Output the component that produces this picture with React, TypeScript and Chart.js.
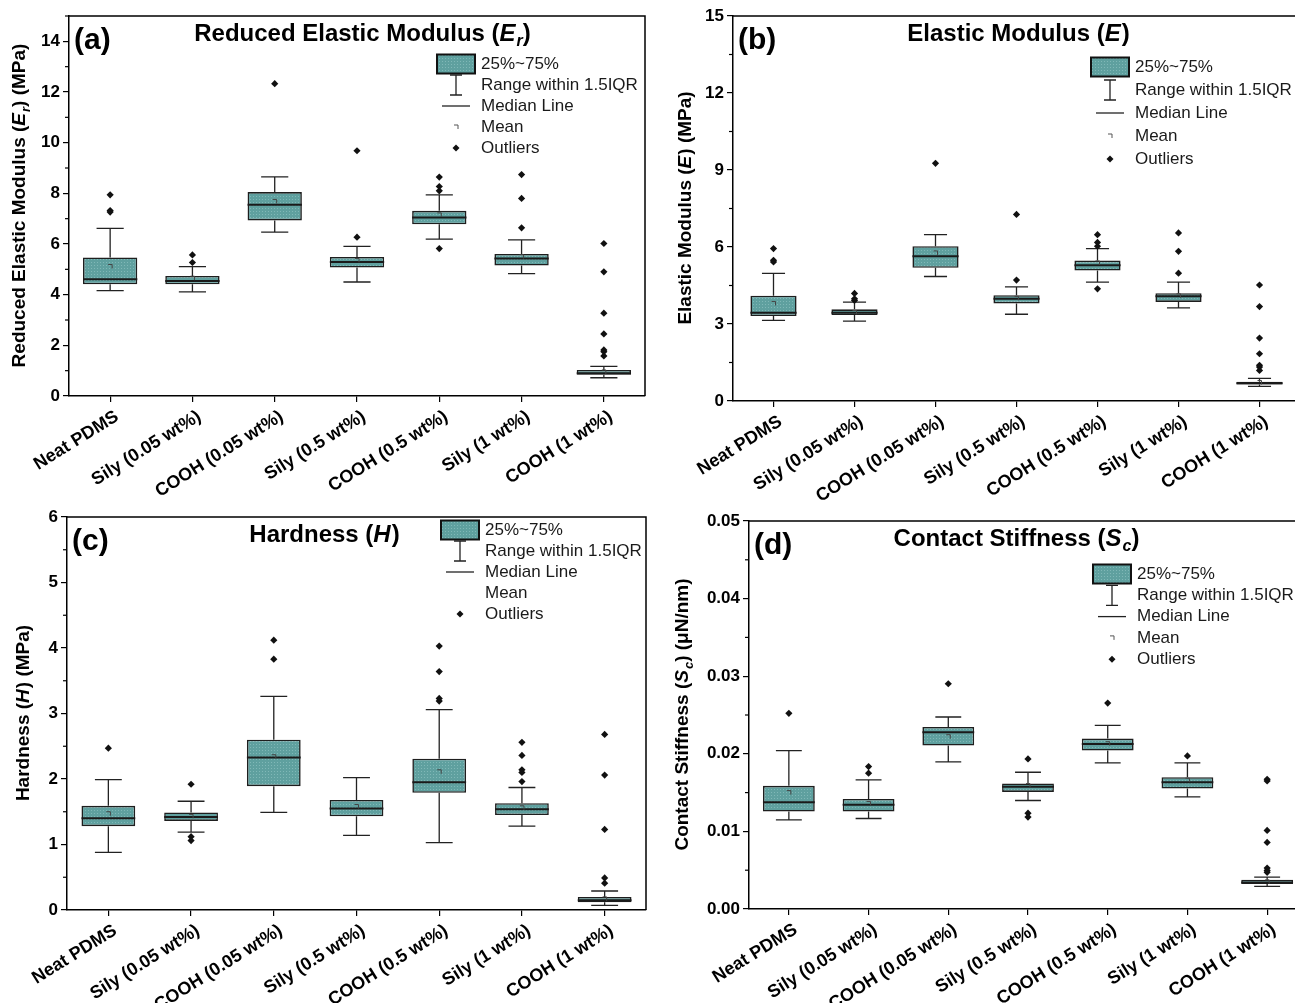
import { useEffect, useRef } from 'react';
import { Chart, registerables } from 'chart.js';

Chart.register(...registerables);

const FAMILY = "'Liberation Sans', Arial, Helvetica, sans-serif";

const categories = [
  'Neat PDMS',
  'Sily (0.05 wt%)',
  'COOH (0.05 wt%)',
  'Sily (0.5 wt%)',
  'COOH (0.5 wt%)',
  'Sily (1 wt%)',
  'COOH (1 wt%)',
];

// (a) Reduced elastic modulus Er (MPa)
const erLow = [4.16, 4.11, 6.47, 4.5, 6.19, 4.83, 0.72];
const erQ1 = [4.41, 4.41, 6.93, 5.07, 6.78, 5.15, 0.84];
const erMedian = [4.61, 4.54, 7.55, 5.29, 7.05, 5.43, 0.9];
const erQ3 = [5.47, 4.74, 8.05, 5.49, 7.31, 5.61, 1.03];
const erHigh = [6.62, 5.11, 8.65, 5.91, 7.94, 6.16, 1.17];
const erMean = [5.11, 4.65, 7.68, 5.35, 7.15, 5.5, 0.95];
const erOutliers = [
  [7.94, 7.32, 7.26],
  [5.57, 5.27],
  [12.33],
  [6.27, 9.68],
  [8.64, 8.27, 8.1, 5.82],
  [8.74, 7.8, 6.64],
  [6.02, 4.9, 3.27, 2.45, 1.82, 1.75, 1.58],
];

// (b) Elastic modulus E (MPa)
const eLow = [3.14, 3.11, 4.85, 3.38, 4.63, 3.63, 0.57];
const eQ1 = [3.31, 3.35, 5.19, 3.8, 5.08, 3.86, 0.64];
const eMedian = [3.44, 3.44, 5.64, 3.98, 5.29, 4.08, 0.69];
const eQ3 = [4.1, 3.57, 6.03, 4.12, 5.47, 4.2, 0.75];
const eHigh = [4.97, 3.85, 6.48, 4.45, 5.94, 4.63, 0.88];
const eMean = [3.8, 3.45, 5.77, 4.0, 5.38, 4.1, 0.72];
const eOutliers = [
  [5.94, 5.48, 5.42],
  [4.19, 3.98, 3.92],
  [9.26],
  [4.71, 7.27],
  [6.48, 6.18, 6.03, 4.37],
  [6.55, 5.83, 4.98],
  [4.52, 3.68, 2.45, 1.84, 1.39, 1.32, 1.19],
];

// (c) Hardness H (MPa)
const hLow = [0.88, 1.19, 1.49, 1.14, 1.03, 1.28, 0.07];
const hQ1 = [1.28, 1.36, 1.89, 1.43, 1.79, 1.45, 0.12];
const hMedian = [1.4, 1.42, 2.33, 1.55, 1.95, 1.54, 0.15];
const hQ3 = [1.59, 1.49, 2.6, 1.68, 2.31, 1.63, 0.2];
const hHigh = [1.99, 1.66, 3.26, 2.02, 3.06, 1.87, 0.29];
const hMean = [1.47, 1.43, 2.34, 1.58, 2.11, 1.56, 0.17];
const hOutliers = [
  [2.47],
  [1.92, 1.12, 1.06],
  [4.12, 3.83],
  [],
  [4.03, 3.64, 3.23, 3.19],
  [2.56, 2.36, 2.14, 2.1, 1.96],
  [2.68, 2.06, 1.23, 0.49, 0.41],
];

// (d) Contact stiffness Sc (uN/nm)
const scLow = [0.01149, 0.01166, 0.01895, 0.01398, 0.01883, 0.01445, 0.00292];
const scQ1 = [0.01256, 0.01256, 0.02106, 0.01509, 0.02041, 0.01552, 0.00322];
const scMedian = [0.01377, 0.01342, 0.02277, 0.01574, 0.02127, 0.01634, 0.00343];
const scQ3 = [0.01587, 0.01419, 0.02346, 0.01617, 0.02196, 0.01698, 0.00377];
const scHigh = [0.0204, 0.01664, 0.02474, 0.01762, 0.02367, 0.01883, 0.00412];
const scMean = [0.015, 0.0136, 0.0222, 0.0159, 0.0213, 0.0166, 0.0035];
const scOutliers = [
  [0.02521],
  [0.01835, 0.0175],
  [0.02903],
  [0.01934, 0.01235, 0.01184],
  [0.02654],
  [0.01973],
  [0.01672, 0.0165, 0.01012, 0.00858, 0.00527, 0.00497, 0.00472],
];

const legendLabels = ['25%~75%', 'Range within 1.5IQR', 'Median Line', 'Mean', 'Outliers'];

type Seg = { t: string; i?: boolean; s?: boolean };

type Panel = {
  tag: string;
  title: Seg[];
  yTitle: Seg[];
  low: number[];
  q1: number[];
  med: number[];
  q3: number[];
  high: number[];
  mean: number[];
  outliers: number[][];
  yMax: number;
  yStep: number;
  yMinor: number;
  decimals: number;
  pos: { left: number; top: number; width: number; height: number };
  area: { left: number; top: number; right: number; bottom: number };
  titleX: number;
  titleY: number;
  yTitleX: number;
  legend: { x: number; y: number; dy: number; showMean: boolean };
  barPct: number;
};

const panels: Panel[] = [
  {
    tag: '(a)',
    title: [{ t: 'Reduced Elastic Modulus (' }, { t: 'E', i: true }, { t: 'r', i: true, s: true }, { t: ')' }],
    yTitle: [{ t: 'Reduced Elastic Modulus (' }, { t: 'E', i: true }, { t: 'r', i: true, s: true }, { t: ') (MPa)' }],
    low: erLow, q1: erQ1, med: erMedian, q3: erQ3, high: erHigh, mean: erMean, outliers: erOutliers,
    yMax: 15, yStep: 2, yMinor: 1, decimals: 0,
    pos: { left: 0, top: 0, width: 650, height: 500 },
    area: { left: 69, top: 16, right: 645, bottom: 396 },
    titleX: 362, titleY: 34, yTitleX: 20,
    legend: { x: 437, y: 64, dy: 21, showMean: true },
    barPct: 0.66,
  },
  {
    tag: '(b)',
    title: [{ t: 'Elastic Modulus (' }, { t: 'E', i: true }, { t: ')' }],
    yTitle: [{ t: 'Elastic Modulus (' }, { t: 'E', i: true }, { t: ') (MPa)' }],
    low: eLow, q1: eQ1, med: eMedian, q3: eQ3, high: eHigh, mean: eMean, outliers: eOutliers,
    yMax: 15, yStep: 3, yMinor: 1.5, decimals: 0,
    pos: { left: 650, top: 0, width: 665, height: 500 },
    area: { left: 83, top: 16, right: 650, bottom: 401 },
    titleX: 368, titleY: 34, yTitleX: 36,
    legend: { x: 441, y: 67, dy: 23, showMean: true },
    barPct: 0.57,
  },
  {
    tag: '(c)',
    title: [{ t: 'Hardness (' }, { t: 'H', i: true }, { t: ')' }],
    yTitle: [{ t: 'Hardness (' }, { t: 'H', i: true }, { t: ') (MPa)' }],
    low: hLow, q1: hQ1, med: hMedian, q3: hQ3, high: hHigh, mean: hMean, outliers: hOutliers,
    yMax: 6, yStep: 1, yMinor: 0.5, decimals: 0,
    pos: { left: 0, top: 500, width: 650, height: 503 },
    area: { left: 67, top: 17, right: 647, bottom: 410 },
    titleX: 324, titleY: 35, yTitleX: 24,
    legend: { x: 441, y: 30, dy: 21, showMean: false },
    barPct: 0.65,
  },
  {
    tag: '(d)',
    title: [{ t: 'Contact Stiffness (' }, { t: 'S', i: true }, { t: 'c', i: true, s: true }, { t: ')' }],
    yTitle: [{ t: 'Contact Stiffness (' }, { t: 'S', i: true }, { t: 'c', i: true, s: true }, { t: ') (\u03bcN/nm)' }],
    low: scLow, q1: scQ1, med: scMedian, q3: scQ3, high: scHigh, mean: scMean, outliers: scOutliers,
    yMax: 0.05, yStep: 0.01, yMinor: 0.005, decimals: 2,
    pos: { left: 650, top: 500, width: 665, height: 503 },
    area: { left: 99, top: 21, right: 657, bottom: 409 },
    titleX: 366, titleY: 39, yTitleX: 33,
    legend: { x: 443, y: 74, dy: 21.3, showMean: true },
    barPct: 0.65,
  },
];

function segFont(seg: Seg, size: number, bold: boolean) {
  const sz = seg.s ? Math.round(size * 0.68) : size;
  return `${seg.i ? 'italic ' : ''}${bold ? 'bold ' : ''}${sz}px ${FAMILY}`;
}

function drawRich(
  ctx: CanvasRenderingContext2D,
  segs: Seg[],
  x: number,
  y: number,
  size: number,
  bold: boolean,
  rotate: number
) {
  ctx.save();
  ctx.translate(x, y);
  if (rotate) ctx.rotate(rotate);
  let total = 0;
  for (const s of segs) {
    ctx.font = segFont(s, size, bold);
    total += ctx.measureText(s.t).width;
  }
  let cx = -total / 2;
  ctx.textAlign = 'left';
  ctx.textBaseline = 'middle';
  ctx.fillStyle = '#000';
  for (const s of segs) {
    ctx.font = segFont(s, size, bold);
    ctx.fillText(s.t, cx, s.s ? size * 0.32 : 0);
    cx += ctx.measureText(s.t).width + (s.i && !s.s ? 1 : 0);
  }
  ctx.restore();
}

function makePattern(canvas: HTMLCanvasElement): CanvasPattern | string {
  const tile = document.createElement('canvas');
  tile.width = 3;
  tile.height = 3;
  const t = tile.getContext('2d');
  if (!t) return '#64a4a3';
  t.fillStyle = '#5fa09f';
  t.fillRect(0, 0, 3, 3);
  t.fillStyle = '#80b8b7';
  t.fillRect(1, 1, 1, 1);
  const ctx = canvas.getContext('2d');
  const p = ctx ? ctx.createPattern(tile, 'repeat') : null;
  return p ?? '#64a4a3';
}

function BoxPanel({ panel }: { panel: Panel }) {
  const ref = useRef<HTMLCanvasElement | null>(null);

  useEffect(() => {
    const canvas = ref.current;
    if (!canvas) return;
    const fill = makePattern(canvas);
    const p = panel;

    const extras = {
      id: 'boxExtras',
      beforeDatasetsDraw(chart: any) {
        const ctx: CanvasRenderingContext2D = chart.ctx;
        const xs = chart.scales.x;
        const ys = chart.scales.y;
        const meta = chart.getDatasetMeta(0);
        ctx.save();
        ctx.strokeStyle = '#222';
        ctx.lineWidth = 1.3;
        p.low.forEach((lo, i) => {
          const x = xs.getPixelForValue(i);
          const w = meta.data[i] ? meta.data[i].width : 40;
          const cap = w / 4;
          const yLo = ys.getPixelForValue(lo);
          const yHi = ys.getPixelForValue(p.high[i]);
          const yQ1 = ys.getPixelForValue(p.q1[i]);
          const yQ3 = ys.getPixelForValue(p.q3[i]);
          ctx.beginPath();
          ctx.moveTo(x, yQ3);
          ctx.lineTo(x, yHi);
          ctx.moveTo(x, yQ1);
          ctx.lineTo(x, yLo);
          ctx.moveTo(x - cap, yHi);
          ctx.lineTo(x + cap, yHi);
          ctx.moveTo(x - cap, yLo);
          ctx.lineTo(x + cap, yLo);
          ctx.stroke();
        });
        ctx.restore();
      },
      afterDatasetsDraw(chart: any) {
        const ctx: CanvasRenderingContext2D = chart.ctx;
        const xs = chart.scales.x;
        const ys = chart.scales.y;
        const meta = chart.getDatasetMeta(0);
        ctx.save();
        p.med.forEach((m, i) => {
          const x = xs.getPixelForValue(i);
          const w = meta.data[i] ? meta.data[i].width : 40;
          const y = ys.getPixelForValue(m);
          ctx.strokeStyle = '#1a1a1a';
          ctx.lineWidth = 2;
          ctx.beginPath();
          ctx.moveTo(x - w / 2, y);
          ctx.lineTo(x + w / 2, y);
          ctx.stroke();
          const ym = ys.getPixelForValue(p.mean[i]);
          ctx.strokeStyle = '#444';
          ctx.lineWidth = 1;
          ctx.beginPath();
          ctx.moveTo(x - 2, ym - 2);
          ctx.lineTo(x + 2, ym - 2);
          ctx.lineTo(x + 2, ym + 2);
          ctx.stroke();
        });
        ctx.restore();
      },
      afterDraw(chart: any) {
        const ctx: CanvasRenderingContext2D = chart.ctx;
        const a = chart.chartArea;
        const ys = chart.scales.y;
        ctx.save();
        // frame top & right
        ctx.strokeStyle = '#000';
        ctx.lineWidth = 1.5;
        ctx.beginPath();
        ctx.moveTo(a.left, a.top);
        ctx.lineTo(a.right, a.top);
        ctx.lineTo(a.right, a.bottom);
        ctx.stroke();
        // minor ticks
        ctx.lineWidth = 1.2;
        const n = Math.round(p.yMax / p.yMinor);
        for (let k = 1; k <= n; k++) {
          const v = k * p.yMinor;
          const r = v / p.yStep;
          if (Math.abs(r - Math.round(r)) < 1e-6) continue;
          const y = ys.getPixelForValue(v);
          ctx.beginPath();
          ctx.moveTo(a.left - 4, y);
          ctx.lineTo(a.left, y);
          ctx.stroke();
        }
        // panel tag
        ctx.fillStyle = '#000';
        ctx.font = `bold 30px ${FAMILY}`;
        ctx.textAlign = 'left';
        ctx.textBaseline = 'middle';
        ctx.fillText(p.tag, a.left + 5, a.top + 25);
        // title
        drawRich(ctx, p.title, p.titleX, p.titleY, 24, true, 0);
        // y axis title
        drawRich(ctx, p.yTitle, p.yTitleX, (a.top + a.bottom) / 2, 19, true, -Math.PI / 2);
        // legend
        const L = p.legend;
        const sw = 38;
        const sh = 19;
        const cx = L.x + sw / 2;
        ctx.fillStyle = fill as any;
        ctx.fillRect(L.x, L.y - sh / 2, sw, sh);
        ctx.strokeStyle = '#111';
        ctx.lineWidth = 2;
        ctx.strokeRect(L.x, L.y - sh / 2, sw, sh);
        // whisker icon
        const y1 = L.y + L.dy;
        ctx.lineWidth = 1.3;
        ctx.strokeStyle = '#222';
        ctx.beginPath();
        ctx.moveTo(cx, y1 - 10);
        ctx.lineTo(cx, y1 + 10);
        ctx.moveTo(cx - 6, y1 - 10);
        ctx.lineTo(cx + 6, y1 - 10);
        ctx.moveTo(cx - 6, y1 + 10);
        ctx.lineTo(cx + 6, y1 + 10);
        ctx.stroke();
        // median icon
        const y2 = L.y + 2 * L.dy;
        ctx.beginPath();
        ctx.moveTo(cx - 14, y2);
        ctx.lineTo(cx + 14, y2);
        ctx.stroke();
        // mean icon
        const y3 = L.y + 3 * L.dy;
        if (L.showMean) {
          ctx.lineWidth = 1;
          ctx.strokeStyle = '#555';
          ctx.beginPath();
          ctx.moveTo(cx - 2, y3 - 2);
          ctx.lineTo(cx + 2, y3 - 2);
          ctx.lineTo(cx + 2, y3 + 2);
          ctx.stroke();
        }
        // outlier icon
        const y4 = L.y + 4 * L.dy;
        ctx.fillStyle = '#111';
        ctx.beginPath();
        ctx.moveTo(cx, y4 - 3.5);
        ctx.lineTo(cx + 3.5, y4);
        ctx.lineTo(cx, y4 + 3.5);
        ctx.lineTo(cx - 3.5, y4);
        ctx.closePath();
        ctx.fill();
        // legend texts
        ctx.fillStyle = '#1a1a1a';
        ctx.font = `17px ${FAMILY}`;
        ctx.textAlign = 'left';
        ctx.textBaseline = 'middle';
        legendLabels.forEach((lab, k) => {
          ctx.fillText(lab, L.x + sw + 6, L.y + k * L.dy);
        });
        ctx.restore();
      },
    };

    const outlierPoints = p.outliers.flatMap((arr, i) =>
      arr.map((v) => ({ x: categories[i], y: v }))
    );

    const chart = new Chart(canvas, {
      type: 'bar',
      data: {
        labels: categories,
        datasets: [
          {
            type: 'bar',
            data: p.q1.map((v, i) => [v, p.q3[i]]) as any,
            backgroundColor: fill as any,
            borderColor: '#1e1e1e',
            borderWidth: 1.6,
            borderSkipped: false,
            barPercentage: p.barPct,
            categoryPercentage: 1,
            order: 2,
          },
          {
            type: 'line',
            data: outlierPoints as any,
            showLine: false,
            pointStyle: 'rectRot',
            pointRadius: 3.6,
            pointBackgroundColor: '#111',
            pointBorderColor: '#111',
            pointBorderWidth: 0,
            order: 1,
          } as any,
        ],
      },
      options: {
        responsive: false,
        animation: false,
        events: [],
        layout: {
          padding: {
            top: p.area.top,
            right: p.pos.width - p.area.right,
            left: 0,
            bottom: 0,
          },
        },
        plugins: {
          legend: { display: false },
          tooltip: { enabled: false },
          title: { display: false },
        },
        scales: {
          x: {
            type: 'category',
            offset: true,
            grid: {
              offset: false,
              drawOnChartArea: false,
              drawTicks: true,
              tickLength: 6,
              color: '#000',
              lineWidth: 1.2,
            },
            border: { color: '#000', width: 1.5 },
            ticks: {
              autoSkip: false,
              minRotation: 32,
              maxRotation: 32,
              padding: 4,
              labelOffset: 7,
              color: '#000',
              font: { family: FAMILY, size: 18, weight: 'bold' },
            },
            afterFit: (s: any) => {
              s.height = p.pos.height - p.area.bottom;
            },
          },
          y: {
            type: 'linear',
            min: 0,
            max: p.yMax,
            grid: {
              drawOnChartArea: false,
              drawTicks: true,
              tickLength: 6,
              color: '#000',
              lineWidth: 1.2,
            },
            border: { color: '#000', width: 1.5 },
            ticks: {
              stepSize: p.yStep,
              includeBounds: false,
              padding: 3,
              color: '#000',
              font: { family: FAMILY, size: 17, weight: 'bold' },
              callback: (v: any) => Number(v).toFixed(p.decimals),
            },
            afterFit: (s: any) => {
              s.width = p.area.left;
            },
          },
        },
      } as any,
      plugins: [extras],
    });
    return () => chart.destroy();
  }, [panel]);

  return (
    <canvas
      ref={ref}
      width={panel.pos.width}
      height={panel.pos.height}
      style={{
        position: 'absolute',
        left: panel.pos.left,
        top: panel.pos.top,
        width: panel.pos.width,
        height: panel.pos.height,
      }}
    />
  );
}

export default function App() {
  return (
    <div
      style={{
        position: 'fixed',
        left: 0,
        top: 0,
        width: 1295,
        height: 1003,
        overflow: 'hidden',
        background: '#fff',
      }}
    >
      {panels.map((p) => (
        <BoxPanel key={p.tag} panel={p} />
      ))}
    </div>
  );
}
